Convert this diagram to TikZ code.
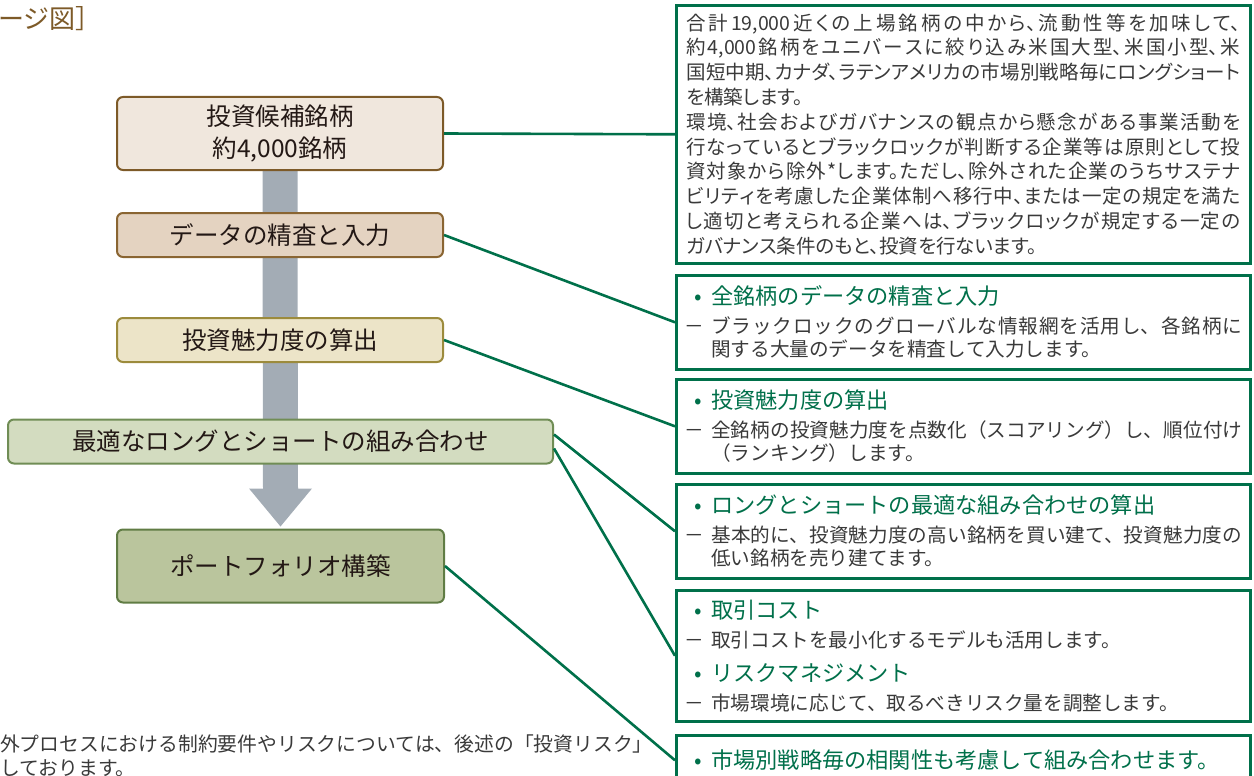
\documentclass[tikz,border=0pt]{standalone}
\usepackage{fontspec}
\setmainfont{Noto Sans CJK JP}
\newfontfamily\propjp[RawFeature=+palt]{Noto Sans CJK JP}
\usetikzlibrary{backgrounds,calc}
\XeTeXlinebreaklocale "ja"
\XeTeXlinebreakskip=0pt plus 3pt
\tolerance=9999
\setlength{\parindent}{0pt}
\definecolor{flowgray}{HTML}{A3ACB5}
\definecolor{linkgreen}{HTML}{00704A}
\definecolor{inkgray}{HTML}{3A3A3A}
\definecolor{stageink}{HTML}{231815}
\definecolor{titlebrown}{HTML}{7D5A28}
\definecolor{stageA}{HTML}{F0E7DD}
\definecolor{stageAline}{HTML}{7D5A28}
\definecolor{stageB}{HTML}{E4D3C1}
\definecolor{stageBline}{HTML}{8A6532}
\definecolor{stageC}{HTML}{ECE4C8}
\definecolor{stageCline}{HTML}{9C8B3C}
\definecolor{stageD}{HTML}{D3DCC0}
\definecolor{stageDline}{HTML}{708D55}
\definecolor{stageE}{HTML}{BAC59D}
\definecolor{stageEline}{HTML}{607C44}
\newcommand{\notehead}[1]{{\color{linkgreen}\fontsize{22.2}{26}\selectfont\makebox[27pt][c]{•}#1\par}}
\newcommand{\notebody}[1]{\hangindent=27pt\hangafter=1\makebox[27pt][l]{－}#1\par}
\tikzset{
  stage/.style={draw,rounded corners=6pt,line width=2pt,inner sep=0pt,minimum height=44pt,
    text=stageink,font=\fontsize{24.5}{32}\selectfont},
  notebox/.style={draw=linkgreen,line width=2.6pt,fill=white,anchor=north west,
    inner xsep=8pt,inner ysep=4pt,text width=558pt,align=justify,text=inkgray,
    font=\fontsize{19.6}{23}\selectfont},
  link/.style={draw=linkgreen,line width=2.6pt},
}

\begin{document}
\begin{tikzpicture}[x=1pt,y=-1pt]
\useasboundingbox (0,0) rectangle (1254,776);
\clip (0,0) rectangle (1254,776);
\node[anchor=west,inner sep=0pt,text=titlebrown,font=\fontsize{26}{26}\selectfont] (title) at (-2,19) {ージ図］};
\node[stage,fill=stageA,draw=stageAline,minimum width=326pt,minimum height=73pt,align=center] (cand) at (280,133.5) {投資候補銘柄\\約4,000銘柄};
\node[stage,fill=stageB,draw=stageBline,minimum width=326pt] (data) at (280,235) {データの精査と入力};
\node[stage,fill=stageC,draw=stageCline,minimum width=326pt] (score) at (280,340) {投資魅力度の算出};
\node[stage,fill=stageD,draw=stageDline,minimum width=545pt] (combo) at (280.5,441.5) {最適なロングとショートの組み合わせ};
\node[stage,fill=stageE,draw=stageEline,minimum width=327pt,minimum height=73pt] (port) at (280.5,566) {ポートフォリオ構築};
\node[notebox,text width=554pt,inner xsep=10pt,minimum height=258pt,font=\propjp\fontsize{19.5}{24.8}\selectfont] (univ) at (675,4) {合計19,000近くの上場銘柄の中から、流動性等を加味して、\linebreak
約4,000銘柄をユニバースに絞り込み米国大型、米国小型、米\linebreak
国短中期、カナダ、ラテンアメリカの市場別戦略毎にロングショート\linebreak
を構築します。\par
環境、社会およびガバナンスの観点から懸念がある事業活動を\linebreak
行なっているとブラックロックが判断する企業等は原則として投\linebreak
資対象から除外*します。ただし、除外された企業のうちサステナ\linebreak
ビリティを考慮した企業体制へ移行中、または一定の規定を満た\linebreak
し適切と考えられる企業へは、ブラックロックが規定する一定の\linebreak
ガバナンス条件のもと、投資を行ないます。\par};
\node[notebox,minimum height=94pt] (datanote) at (675,274) {\notehead{全銘柄のデータの精査と入力}\vskip6pt
\notebody{ブラックロックのグローバルな情報網を活用し、各銘柄に\linebreak
関する大量のデータを精査して入力します。}};
\node[notebox,minimum height=94pt] (scorenote) at (675,378) {\notehead{投資魅力度の算出}\vskip6pt
\notebody{全銘柄の投資魅力度を点数化（スコアリング）し、順位付け\linebreak
（ランキング）します。}};
\node[notebox,minimum height=94pt] (combonote) at (675,483) {\notehead{ロングとショートの最適な組み合わせの算出}\vskip6pt
\notebody{基本的に、投資魅力度の高い銘柄を買い建て、投資魅力度の\linebreak
低い銘柄を売り建てます。}};
\node[notebox,minimum height=131pt] (costnote) at (675,589) {\notehead{取引コスト}\vskip6pt
\notebody{取引コストを最小化するモデルも活用します。}\vskip8pt
\notehead{リスクマネジメント}\vskip6pt
\notebody{市場環境に応じて、取るべきリスク量を調整します。}};
\node[notebox,minimum height=50pt] (corrnote) at (675,734) {\notehead{市場別戦略毎の相関性も考慮して組み合わせます。}};
\node[anchor=north west,inner sep=0pt,align=left,text=inkgray,font=\fontsize{19.8}{24}\selectfont] (footnote) at (0,735) {外プロセスにおける制約要件やリスクについては、後述の「投資リスク」\\しております。};
\draw[link] (cand.east) -- (univ.west);
\draw[link] (data.east) -- (datanote.west);
\draw[link] (score.east) -- (scorenote.west);
\draw[link] ([yshift=7pt]combo.east) -- (combonote.west);
\draw[link] ([yshift=-7pt]combo.east) -- (costnote.west);
\draw[link] (port.east) -- (corrnote.west);
\begin{scope}[on background layer]
\fill[flowgray] ($(cand.south)+(-17.5,0)$) -- ($(port.north)+(-17.5,-40)$) -- ($(port.north)+(-31.5,-40)$)
  -- ($(port.north)+(0,-2)$) -- ($(port.north)+(31.5,-40)$) -- ($(port.north)+(17.5,-40)$)
  -- ($(cand.south)+(17.5,0)$) -- cycle;
\end{scope}
\end{tikzpicture}
\end{document}
